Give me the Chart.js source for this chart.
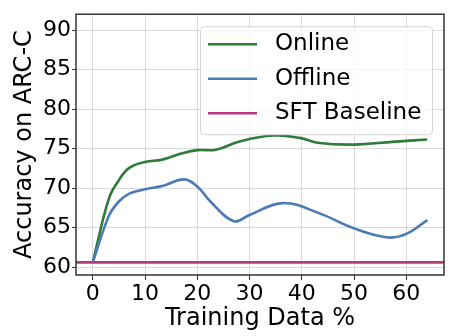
<!DOCTYPE html>
<html>
<head>
<meta charset="utf-8">
<script src="https://cdn.jsdelivr.net/npm/chart.js@4"></script>
<style>
  html, body { margin: 0; padding: 0; background: #fff; }
  #wrap { width: 449px; height: 336px; }
</style>
</head>
<body>
<div id="wrap"><canvas id="chart"></canvas></div>
<script>
const seriesNames = ["Online", "Offline", "SFT Baseline"];

// training data % / accuracy
const onlineX = [0, 3.1, 5, 7, 10, 13.3, 17.1, 20, 23.6, 28.1, 34.5, 39.6, 43.4, 50, 57.4, 64];
const onlineY = [60.6, 68.7, 71.0, 72.55, 73.3, 73.6, 74.4, 74.8, 74.85, 75.9, 76.65, 76.35, 75.7, 75.5, 75.85, 76.15];

const offlineX = [0, 3.1, 5, 7, 10, 13.3, 17.5, 20, 22.5, 27, 30, 36.4, 43.4, 50, 56.5, 60, 64];
const offlineY = [60.6, 66.5, 68.3, 69.3, 69.85, 70.25, 71.1, 70.2, 68.3, 65.8, 66.6, 68.1, 66.8, 64.9, 63.75, 64.2, 65.95];

const sftBaseline = 60.6;

const xMin = -3.2, xMax = 67.2;
const yMin = 59, yMax = 92;
const xTickStep = 10, yTickStep = 5;

const colors = ["#2f7b38", "#4a7bb4", "#b53a80"];
const FONT = "'DejaVu Sans', sans-serif";

function points(xs, ys) {
    return xs.map((x, i) => ({ x: x, y: ys[i] }));
}

const frameAndLegend = {
    id: "frameAndLegend",
    afterDatasetsDraw(chart) {
        const ctx = chart.ctx;
        const a = chart.chartArea;
        ctx.save();
        ctx.strokeStyle = "#333";
        ctx.lineWidth = 1.5;
        ctx.strokeRect(a.left, a.top, a.right - a.left, a.bottom - a.top);

        // legend box, upper right inside plot
        const w = 232, h = 108;
        const bx = a.right - 12 - w, by = a.top + 12;
        ctx.beginPath();
        ctx.roundRect(bx + 0.5, by + 0.5, w, h, 4);
        ctx.fillStyle = "rgba(255,255,255,0.8)";
        ctx.fill();
        ctx.strokeStyle = "#d6d6d6";
        ctx.lineWidth = 1;
        ctx.stroke();

        ctx.font = "23px " + FONT;
        ctx.textBaseline = "middle";
        ctx.textAlign = "left";
        chart.data.datasets.forEach((ds, i) => {
            const ly = by + 18 + i * 34.5;
            ctx.strokeStyle = ds.borderColor;
            ctx.lineWidth = ds.borderWidth;
            ctx.beginPath();
            ctx.moveTo(bx + 8, ly);
            ctx.lineTo(bx + 57, ly);
            ctx.stroke();
            ctx.fillStyle = "#000";
            ctx.fillText(ds.label, bx + 75, ly);
        });
        ctx.restore();
    }
};

new Chart(document.getElementById("chart"), {
    type: "line",
    data: {
        datasets: [
            {
                label: seriesNames[0],
                data: points(onlineX, onlineY),
                borderColor: colors[0],
                borderWidth: 2.6,
                tension: 0.4,
                pointRadius: 0,
                order: 3
            },
            {
                label: seriesNames[1],
                data: points(offlineX, offlineY),
                borderColor: colors[1],
                borderWidth: 2.6,
                tension: 0.4,
                pointRadius: 0,
                order: 2
            },
            {
                label: seriesNames[2],
                data: [{ x: xMin, y: sftBaseline }, { x: xMax, y: sftBaseline }],
                borderColor: colors[2],
                borderWidth: 2.6,
                pointRadius: 0,
                order: 1
            }
        ]
    },
    options: {
        responsive: true,
        maintainAspectRatio: false,
        animation: false,
        layout: { padding: { left: 0, right: 5, top: 13, bottom: 0 } },
        plugins: {
            legend: { display: false },
            tooltip: { enabled: false }
        },
        scales: {
            x: {
                type: "linear",
                min: xMin,
                max: xMax,
                ticks: {
                    stepSize: xTickStep,
                    includeBounds: false,
                    color: "#000",
                    padding: 1,
                    font: { family: FONT, size: 22 }
                },
                grid: { color: "rgba(0,0,0,0.14)", tickLength: 5, tickColor: "#333" },
                border: { display: false },
                title: {
                    display: true,
                    text: "Training Data %",
                    color: "#000",
                    font: { family: FONT, size: 24 },
                    padding: { top: 0, bottom: 3 }
                },
                afterFit(s) { s.height = 61; }
            },
            y: {
                min: yMin,
                max: yMax,
                ticks: {
                    stepSize: yTickStep,
                    includeBounds: false,
                    color: "#000",
                    padding: 1,
                    font: { family: FONT, size: 22 }
                },
                grid: { color: "rgba(0,0,0,0.14)", tickLength: 4, tickColor: "#333" },
                border: { display: false },
                title: {
                    display: true,
                    text: "Accuracy on ARC-C",
                    color: "#000",
                    font: { family: FONT, size: 24 },
                    padding: { top: 10, bottom: 0 }
                },
                afterFit(s) { s.width = 76; }
            }
        }
    },
    plugins: [frameAndLegend]
});
</script>
</body>
</html>
